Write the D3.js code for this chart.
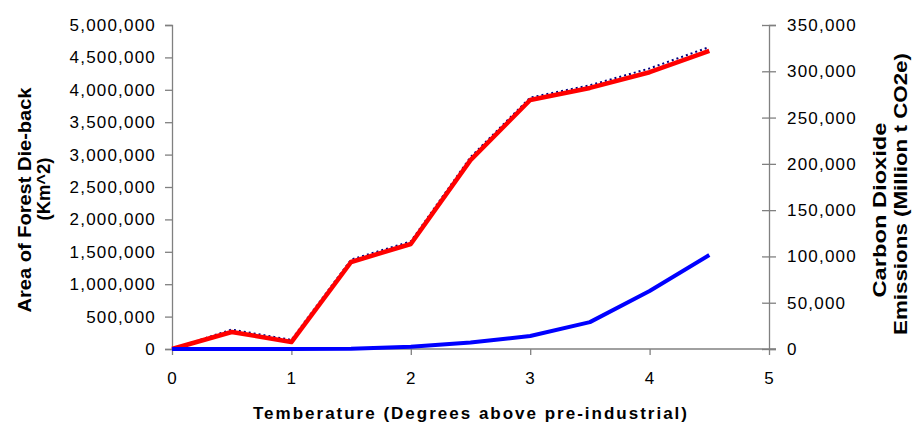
<!DOCTYPE html>
<html>
<head>
<meta charset="utf-8">
<script src="https://cdn.jsdelivr.net/npm/d3@7"></script>
<style>
  body { margin: 0; background: #fff; }
  svg { font-family: "Liberation Sans", Arial, sans-serif; }
</style>
</head>
<body>
<svg id="chart" width="912" height="423"></svg>
<script>
// temperature steps (degrees above pre-industrial)
const temps = [0, 0.5, 1, 1.5, 2, 2.5, 3, 3.5, 4, 4.5];
// forest die-back, km^2 (left axis, dotted navy)
const forestDieback = [0, 300000, 140000, 1380000, 1660000, 2960000, 3880000, 4070000, 4330000, 4660000];
// carbon dioxide emissions, million t CO2e (right axis, red)
const co2Emissions = [0, 18400, 7500, 94000, 113400, 204000, 269000, 282000, 299000, 322000];
// second blue series (left axis)
const blueSeries = [0, 0, 0, 5000, 35000, 100000, 200000, 415000, 895000, 1450000];

const xTicks = [0, 1, 2, 3, 4, 5];
const leftTicks = d3.range(0, 5000001, 500000);
const rightTicks = d3.range(0, 350001, 50000);

const svg = d3.select("#chart");
const plotLeft = 172, plotRight = 769, plotTop = 25, plotBottom = 349;

const x = d3.scaleLinear().domain([0, 5]).range([plotLeft, plotRight]);
const yL = d3.scaleLinear().domain([0, 5000000]).range([plotBottom, plotTop]);
const yR = d3.scaleLinear().domain([0, 350000]).range([plotBottom, plotTop]);
const fmt = d3.format(",");

// left axis
const gL = svg.append("g")
    .attr("transform", `translate(${plotLeft},0)`)
    .call(d3.axisLeft(yL).tickValues(leftTicks).tickFormat(fmt).tickSize(7).tickPadding(9));
// right axis
const gR = svg.append("g")
    .attr("transform", `translate(${plotRight},0)`)
    .call(d3.axisRight(yR).tickValues(rightTicks).tickFormat(fmt).tickSize(7).tickPadding(11));
gR.selectAll(".tick line").attr("x1", -7);
// bottom axis
const gB = svg.append("g")
    .attr("transform", `translate(0,${plotBottom})`)
    .call(d3.axisBottom(x).tickValues(xTicks).tickFormat(d3.format("d")).tickSize(6).tickPadding(17));
gB.select(".domain").attr("d", `M${plotLeft},0H${plotRight + 7}`);

svg.selectAll(".domain, .tick line").attr("stroke", "#808080").attr("stroke-width", 1.3);
svg.selectAll(".tick text")
    .attr("fill", "#000")
    .style("font-size", "17px")
    .style("letter-spacing", "1.2px");

const line = (ys, vals) => d3.line()
    .x((d, i) => x(temps[i]))
    .y(d => ys(d))(vals);

svg.append("path")
    .attr("d", line(yL, forestDieback))
    .attr("fill", "none")
    .attr("stroke", "#000080")
    .attr("stroke-width", 2)
    .attr("stroke-dasharray", "2,3");

svg.append("path")
    .attr("d", line(yR, co2Emissions))
    .attr("fill", "none")
    .attr("stroke", "#ff0000")
    .attr("stroke-width", 4.5)
    .attr("stroke-linejoin", "round");

svg.append("path")
    .attr("d", line(yL, blueSeries))
    .attr("fill", "none")
    .attr("stroke", "#0000ff")
    .attr("stroke-width", 4)
    .attr("stroke-linejoin", "round");

// axis titles
const title = svg.append("g")
    .style("font-weight", "bold")
    .attr("fill", "#000");

const vTitle = (tx, ty, size, len, txt) => title.append("text")
    .attr("transform", `translate(${tx},${ty}) rotate(-90)`)
    .attr("text-anchor", "middle")
    .style("font-size", size + "px")
    .attr("textLength", len)
    .attr("lengthAdjust", "spacingAndGlyphs")
    .text(txt);

vTitle(31, 200, 18, 225, "Area of Forest Die-back");
vTitle(50, 189, 18, 63, "(Km^2)");
vTitle(886, 210, 19, 175, "Carbon Dioxide");
vTitle(907, 194, 19, 282, "Emissions (Million t CO2e)");

title.append("text")
    .attr("x", 470)
    .attr("y", 419)
    .attr("text-anchor", "middle")
    .style("font-size", "17px")
    .attr("textLength", 434)
    .attr("lengthAdjust", "spacing")
    .text("Temberature (Degrees above pre-industrial)");
</script>
</body>
</html>
